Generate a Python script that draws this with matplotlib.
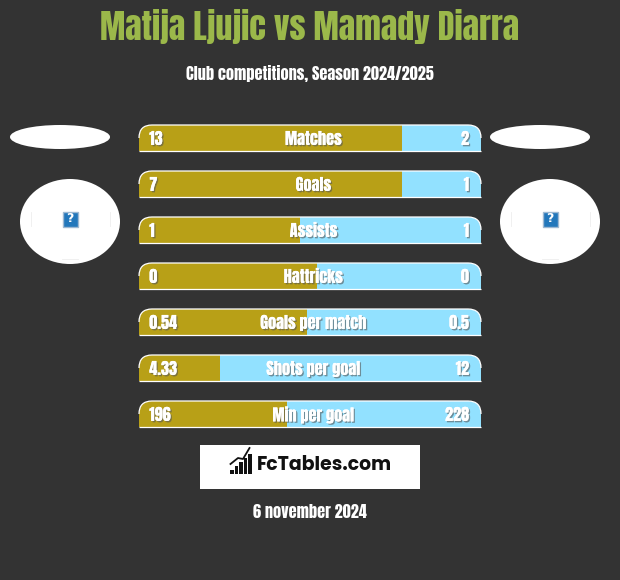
import matplotlib
matplotlib.use("Agg")
import matplotlib.pyplot as plt
import matplotlib.patheffects as pe
from matplotlib.path import Path
from matplotlib.patches import PathPatch, Ellipse, Rectangle

# Anton is the closest match, the others are only there if it is missing
plt.rcParams["font.family"] = ["Anton", "Liberation Sans", "DejaVu Sans"]

# Data
stats = ["Matches", "Goals", "Assists", "Hattricks", "Goals per match", "Shots per goal", "Min per goal"]
left_labels = ["13", "7", "1", "0", "0.54", "4.33", "196"]
right_labels = ["2", "1", "1", "0", "0.5", "12", "228"]
# share of the bar taken by the left colour, in percent
left_share = [76.9, 76.9, 47.0, 52.0, 49.1, 23.7, 43.3]

BG = "#333333"
GOLD = "#B8A017"
BLUE = "#92E1FF"
GREEN = "#9BB84A"
shadow = [pe.withSimplePatchShadow(offset=(1, -1), shadow_rgbFace="#555555", alpha=0.6), pe.Normal()]

fig = plt.figure(figsize=(6.2, 5.8), dpi=100, facecolor=BG)

# background axes in pixel units for everything around the bars
bg = fig.add_axes([0, 0, 1, 1])
bg.set_xlim(0, 620)
bg.set_ylim(580, 0)
bg.axis("off")

bg.text(310, 27, "Matija Ljujic vs Mamady Diarra", color=GREEN, fontsize=24.4, ha="center", va="center")
bg.text(310, 73.5, "Club competitions, Season 2024/2025", color="white", fontsize=11.7, ha="center", va="center")
bg.text(310, 511.5, "6 november 2024", color="white", fontsize=11.7, ha="center", va="center")

# player placeholders
for cx in [60, 540]:
    bg.add_patch(Ellipse((cx, 137), 100, 24, fc="white", ec="none"))
for cx in [70, 550]:
    bg.add_patch(Ellipse((cx, 221.5), 100, 85, fc="white", ec="none"))
    bg.plot([cx - 39.5, cx - 39.5], [212, 226], color="#EEEEEE", lw=0.6)
    bg.plot([cx + 39.5, cx + 39.5], [212, 226], color="#EEEEEE", lw=0.6)
    bg.plot([cx - 8, cx + 8], [258.5, 258.5], color="#EEEEEE", lw=0.6)
    bg.add_patch(Rectangle((cx - 7.5, 211.5), 15, 15, fc="#2277BB", ec="#9DB8D2", lw=1))
    bg.text(cx, 219, "?", color="white", fontsize=9, fontweight="bold", ha="center", va="center", family="DejaVu Sans")

# logo box
bg.add_patch(Rectangle((200, 445), 220, 44, fc="white", ec="none"))
logo_x = [232, 236.5, 241, 245.5, 250]
logo_top = [470, 466, 462, 458, 454]
for x, top in zip(logo_x, logo_top):
    bg.add_patch(Rectangle((x - 1.7, top), 3.6, 473.5 - top, fc="#111111", ec="none"))
bg.plot([230.5, 238, 243, 249.5], [464, 458, 459, 448], color="#111111", lw=1.3)
bg.text(257, 465, "FcTables.com", color="#111111", fontsize=13.6, fontweight="bold", ha="left", va="center",
        family=["Poppins", "Open Sans", "DejaVu Sans"])

# bars axes, 0-100 across and one unit per row
ax = fig.add_axes([139 / 620, 1 - 427 / 580, 342 / 620, 302 / 580])
ax.set_xlim(0, 100)
half = 13 / 46
ax.set_ylim(6 + half, -half)
ax.axis("off")

rx = 13 / 342 * 100
ry = 13 / 46

for i, stat in enumerate(stats):
    top = i - half
    bot = i + half
    verts = [(0, bot), (0, top + ry), (0, top), (rx, top), (100 - rx, top), (100, top), (100, top + ry), (100, bot)]
    codes = [Path.MOVETO, Path.LINETO, Path.CURVE3, Path.CURVE3, Path.LINETO, Path.CURVE3, Path.CURVE3, Path.LINETO]
    clip = PathPatch(Path(verts + [(0, bot)], codes + [Path.CLOSEPOLY]), transform=ax.transData, fc="none", ec="none")
    ax.add_patch(clip)

    b1 = ax.barh(i, left_share[i], height=2 * half, left=0, color=GOLD, lw=0)
    b2 = ax.barh(i, 100 - left_share[i], height=2 * half, left=left_share[i], color=BLUE, lw=0)
    b1[0].set_clip_path(clip)
    b2[0].set_clip_path(clip)

    # white edge only over the top and round the corners, plus the bottom line
    arc_v = [(0, top + ry), (0, top), (rx, top), (100 - rx, top), (100, top), (100, top + ry)]
    arc_c = [Path.MOVETO, Path.CURVE3, Path.CURVE3, Path.LINETO, Path.CURVE3, Path.CURVE3]
    ax.add_patch(PathPatch(Path(arc_v, arc_c), fc="none", ec="white", lw=0.9, clip_on=False))
    ax.plot([0, 100], [bot, bot], color="white", lw=0.9, clip_on=False, solid_capstyle="butt")

    ax.text(51, i + 0.02, stat, color="white", fontsize=11.7, ha="center", va="center", path_effects=shadow)
    ax.text(3, i + 0.02, left_labels[i], color="white", fontsize=11.7, ha="left", va="center", path_effects=shadow)
    ax.text(96.5, i + 0.02, right_labels[i], color="white", fontsize=11.7, ha="right", va="center", path_effects=shadow)

fig.savefig("out.png", dpi=100, facecolor=BG)
